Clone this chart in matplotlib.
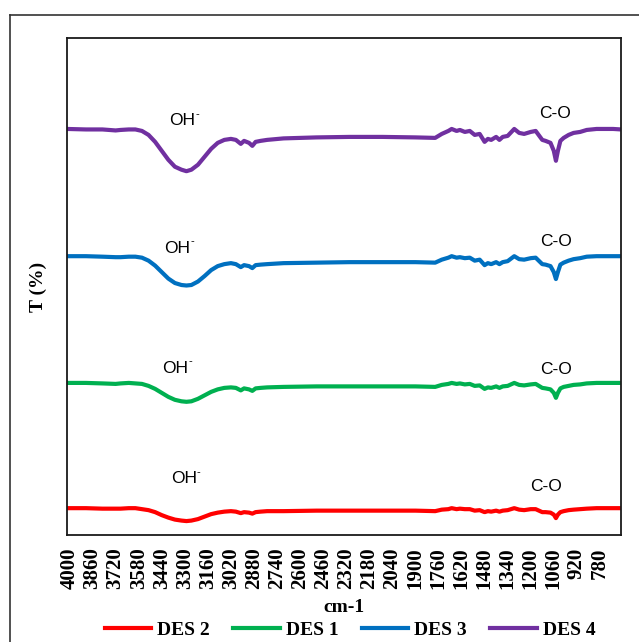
import numpy as np
import matplotlib
matplotlib.use("Agg")
import matplotlib.pyplot as plt
from matplotlib.lines import Line2D

# wavenumber grid shared by all spectra (cm-1)
wavenumber = [4015, 3900, 3800, 3720, 3690, 3640, 3600, 3560, 3520, 3480,
              3440, 3400, 3360, 3320, 3290, 3260, 3220, 3180, 3140, 3100,
              3060, 3020, 2990, 2960, 2940, 2910, 2890, 2870, 2840, 2800,
              2700, 2500, 2300, 2100, 1900, 1780, 1740, 1700, 1680, 1650,
              1630, 1600, 1570, 1540, 1510, 1480, 1460, 1440, 1410, 1390,
              1370, 1340, 1300, 1270, 1240, 1200, 1170, 1130, 1110, 1080,
              1060, 1047, 1035, 1020, 1000, 970, 940, 900, 860, 800,
              700, 652]

# stacked transmittance traces
t_des4 = [81.7, 81.6, 81.6, 81.4, 81.5, 81.6, 81.6, 81.3, 80.5, 79.1,
          77.3, 75.5, 74.1, 73.5, 73.2, 73.5, 74.5, 76.1, 77.7, 78.9,
          79.5, 79.7, 79.5, 78.7, 79.3, 78.9, 78.3, 79.1, 79.3, 79.5,
          79.8, 80.0, 80.1, 80.1, 80.0, 79.9, 80.7, 81.3, 81.7, 81.3,
          81.5, 81.1, 81.3, 80.5, 80.7, 79.1, 79.7, 79.5, 80.1, 79.5,
          80.1, 80.3, 81.7, 80.9, 80.7, 81.1, 81.3, 79.5, 79.3, 78.9,
          77.3, 75.3, 77.3, 79.3, 79.9, 80.5, 80.9, 81.1, 81.5, 81.7,
          81.7, 81.6]
t_des3 = [56.1, 56.1, 56.0, 55.9, 55.9, 56.0, 56.0, 55.8, 55.2, 54.2,
          52.9, 51.6, 50.7, 50.3, 50.2, 50.3, 51.0, 52.1, 53.3, 54.1,
          54.5, 54.7, 54.5, 53.9, 54.3, 54.1, 53.7, 54.3, 54.4, 54.5,
          54.7, 54.8, 54.9, 54.9, 54.9, 54.8, 55.4, 55.8, 56.1, 55.8,
          55.9, 55.7, 55.8, 55.2, 55.4, 54.3, 54.7, 54.5, 54.9, 54.5,
          54.9, 55.1, 56.1, 55.5, 55.4, 55.7, 55.8, 54.5, 54.4, 54.1,
          52.9, 51.5, 52.9, 54.4, 54.8, 55.2, 55.5, 55.7, 56.0, 56.1,
          56.1, 56.1]
t_des1 = [30.6, 30.6, 30.5, 30.4, 30.5, 30.6, 30.5, 30.4, 30.0, 29.4,
          28.6, 27.8, 27.2, 26.9, 26.8, 26.9, 27.4, 28.1, 28.8, 29.3,
          29.6, 29.7, 29.6, 29.1, 29.5, 29.3, 29.0, 29.5, 29.6, 29.7,
          29.8, 29.9, 29.9, 29.9, 29.9, 29.8, 30.2, 30.4, 30.6, 30.4,
          30.5, 30.3, 30.4, 30.0, 30.1, 29.4, 29.7, 29.6, 29.9, 29.6,
          29.9, 30.0, 30.6, 30.2, 30.1, 30.3, 30.4, 29.6, 29.5, 29.3,
          28.6, 27.6, 28.6, 29.5, 29.8, 30.0, 30.2, 30.3, 30.5, 30.6,
          30.6, 30.6]
t_des2 = [5.4, 5.4, 5.3, 5.3, 5.3, 5.4, 5.4, 5.2, 5.0, 4.6,
          4.0, 3.5, 3.1, 2.9, 2.8, 2.9, 3.2, 3.7, 4.2, 4.5,
          4.7, 4.8, 4.7, 4.4, 4.6, 4.5, 4.3, 4.6, 4.7, 4.8,
          4.8, 4.9, 4.9, 4.9, 4.9, 4.8, 5.1, 5.2, 5.4, 5.2,
          5.3, 5.2, 5.2, 4.9, 5.0, 4.6, 4.8, 4.7, 4.9, 4.7,
          4.9, 5.0, 5.4, 5.1, 5.0, 5.2, 5.2, 4.6, 4.6, 4.5,
          4.1, 3.4, 4.1, 4.6, 4.8, 5.0, 5.1, 5.2, 5.3, 5.4,
          5.4, 5.4]

series_names = ["DES 2", "DES 1", "DES 3", "DES 4"]
series_colors = ["#FF0000", "#00B050", "#0070C0", "#7030A0"]
tick_values = list(range(4000, 779, -140))

# band labels: (wavenumber, T)
oh_labels = [(3314, 83.3), (3344, 57.7), (3356, 33.6), (3307, 11.3)]
co_labels = [(1054, 84.9), (1048, 59.0), (1048, 33.4), (1108, 9.7)]

serif = ["Liberation Serif", "DejaVu Serif"]
sans = ["Liberation Sans", "DejaVu Sans"]

fig = plt.figure(figsize=(6.39, 6.42), dpi=100)
ax = fig.add_axes([67 / 639, 1 - 535 / 642, 554 / 639, 497 / 642])

traces = [t_des2, t_des1, t_des3, t_des4]
for name, color, t in zip(series_names, series_colors, traces):
    ax.plot(wavenumber, t, color=color, lw=3, solid_capstyle="butt", label=name)

for w, t in oh_labels:
    ax.text(w, t, "OH", ha="center", va="center", fontsize=12.5,
            family=sans, color="black")
    # small superscript charge sign
    ax.annotate("-", (w, t), xytext=(10.5, 5), textcoords="offset points",
                ha="center", va="center", fontsize=8, family=sans)
for w, t in co_labels:
    ax.text(w, t, "C-O", ha="center", va="center", fontsize=12.5,
            family=sans, color="black")

ax.set_xlim(4015, 652)
ax.set_ylim(0, 100)
ax.set_xticks(tick_values)
ax.set_xticklabels([str(v) for v in tick_values], rotation=90,
                   fontsize=15, fontweight="bold", family=serif)
ax.tick_params(axis="x", length=0, pad=9)
ax.set_yticks([])
for side in ax.spines.values():
    side.set_linewidth(1.3)
    side.set_color("#1a1a1a")

ax.set_xlabel("cm-1", fontsize=14, fontweight="bold", family=serif)
ax.xaxis.set_label_coords(0.5, -0.128)
ax.set_ylabel("T (%)", fontsize=14, fontweight="bold", family=serif)
ax.yaxis.set_label_coords(-0.036, 0.5)

handles = [Line2D([], [], color=c, lw=3) for c in series_colors]
fig.legend(handles, series_names, loc="center", ncol=4,
           bbox_to_anchor=(350 / 639, 12 / 642), frameon=False,
           handlelength=2.4, columnspacing=1.2, handletextpad=0.3,
           prop={"family": serif, "weight": "bold", "size": 14})

# outer chart-area border
fig.add_artist(Line2D([10 / 639, 10 / 639], [0, 1 - 15 / 642],
                      transform=fig.transFigure, color="#333333", lw=1.2))
fig.add_artist(Line2D([10 / 639, 1], [1 - 15 / 642, 1 - 15 / 642],
                      transform=fig.transFigure, color="#333333", lw=1.2))

fig.savefig("out.png", dpi=100)
